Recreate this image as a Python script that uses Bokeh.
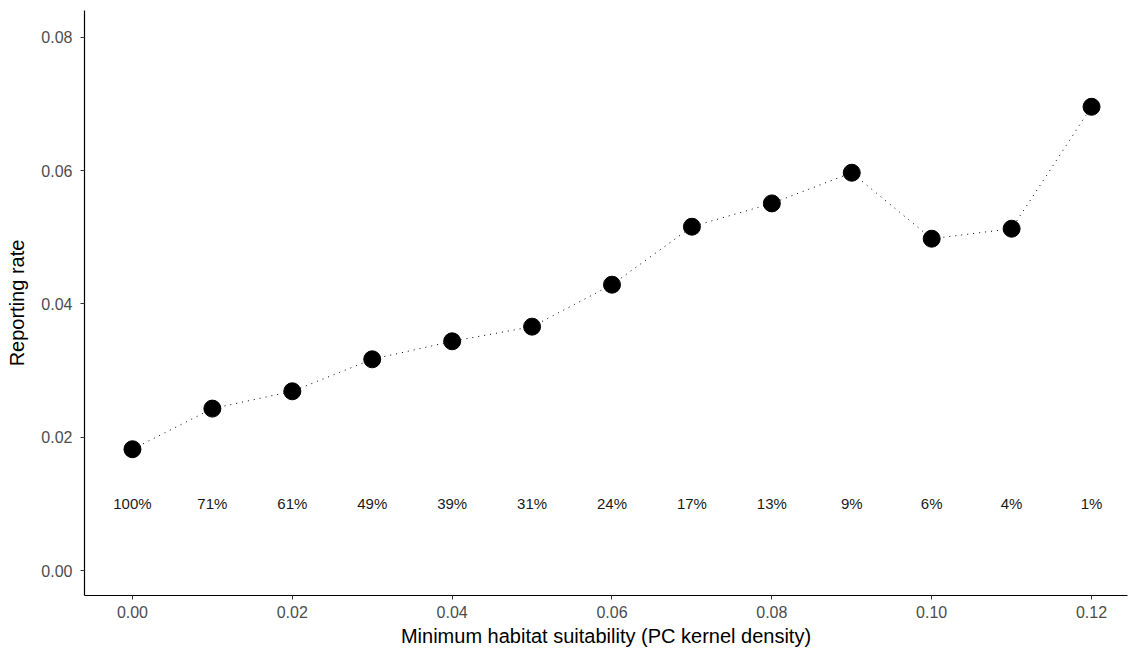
from bokeh.plotting import figure
from bokeh.models import Range1d, FixedTicker, ColumnDataSource
from bokeh.core.properties import value
from bokeh.embed import file_html
from bokeh.resources import INLINE

suitability = [0.00, 0.01, 0.02, 0.03, 0.04, 0.05, 0.06, 0.07, 0.08, 0.09, 0.10, 0.11, 0.12]
reporting_rate = [0.0182, 0.0243, 0.0269, 0.0317, 0.0344, 0.0366, 0.0429, 0.0516, 0.0551, 0.0597, 0.0498, 0.0513, 0.0696]
pct_labels = ["100%", "71%", "61%", "49%", "39%", "31%", "24%", "17%", "13%", "9%", "6%", "4%", "1%"]
label_y = [0.01] * len(suitability)
x_ticks = [0.00, 0.02, 0.04, 0.06, 0.08, 0.10, 0.12]
y_ticks = [0.00, 0.02, 0.04, 0.06, 0.08]

src = ColumnDataSource(dict(x=suitability, y=reporting_rate, lab=pct_labels, ly=label_y))

p = figure(width=1129, height=654, output_backend="svg", toolbar_location=None,
           x_range=Range1d(-0.006, 0.1245), y_range=Range1d(-0.00375, 0.08405),
           min_border_left=84, min_border_right=2, min_border_top=10, min_border_bottom=59)
p.outline_line_color = None
p.grid.visible = False
p.background_fill_color = "white"

p.line("x", "y", source=src, line_color="black", line_width=1, line_dash="1 5")
p.scatter("x", "y", source=src, size=17, fill_color="black", line_color="black")
p.text("x", "ly", text="lab", source=src, text_align="center", text_baseline="middle",
       text_font=value("Liberation Sans"), text_font_size="15px", text_color="#1a1a1a")

for ax in (p.xaxis[0], p.yaxis[0]):
    ax.axis_line_color = "black"
    ax.axis_line_width = 1.2
    ax.major_tick_line_color = "#333333"
    ax.major_tick_out = 4
    ax.major_tick_in = 0
    ax.minor_tick_line_color = None
    ax.major_label_text_font = "Liberation Sans"
    ax.major_label_text_font_size = "16px"
    ax.major_label_text_color = "#4d4d4d"
    ax.axis_label_text_font = "Liberation Sans"
    ax.axis_label_text_font_size = "20px"
    ax.axis_label_text_font_style = "normal"
    ax.axis_label_text_color = "black"

p.xaxis.ticker = FixedTicker(ticks=x_ticks)
p.yaxis.ticker = FixedTicker(ticks=y_ticks)
p.xaxis.major_label_overrides = {t: f"{t:.2f}" for t in x_ticks}
p.yaxis.major_label_overrides = {t: f"{t:.2f}" for t in y_ticks}
p.xaxis.axis_label = "Minimum habitat suitability (PC kernel density)"
p.yaxis.axis_label = "Reporting rate"
p.xaxis.major_label_standoff = 6
p.yaxis.major_label_standoff = 8
p.xaxis.axis_label_standoff = 4
p.yaxis.axis_label_standoff = 10

open("out.html", "w").write(file_html(p, INLINE))
